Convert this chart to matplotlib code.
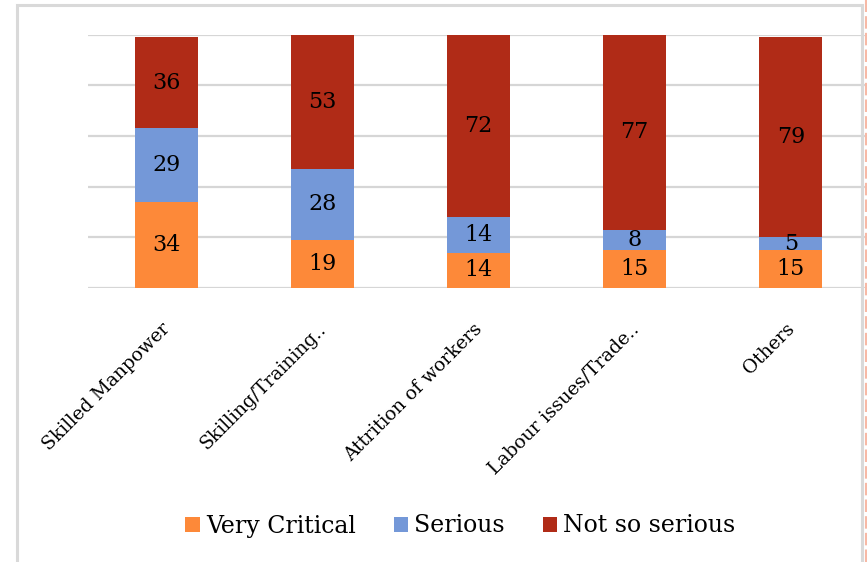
import matplotlib
matplotlib.use("Agg")
import matplotlib.pyplot as plt
from matplotlib.patches import Rectangle, Patch
from matplotlib.lines import Line2D
from matplotlib.transforms import ScaledTranslation
import numpy as np

plt.rcParams["font.family"] = ["DejaVu Serif"]

categories = ["Skilled Manpower", "Skilling/Training..", "Attrition of workers",
              "Labour issues/Trade..", "Others"]
very_critical = [34, 19, 14, 15, 15]
serious = [29, 28, 14, 8, 5]
not_so_serious = [36, 53, 72, 77, 79]

series_names = ["Very Critical", "Serious", "Not so serious"]
colors = ["#FD8939", "#7498D8", "#B02B17"]

W, H = 867, 562
fig = plt.figure(figsize=(W / 100, H / 100), dpi=100)

# plot area in pixel terms
left, right, top, bottom = 88, 869, 34.5, 288
ax = fig.add_axes([left / W, 1 - bottom / H, (right - left) / W, (bottom - top) / H])

x = np.arange(len(categories))
bar_w = 0.403
base = np.zeros(len(categories))
for vals, name, col in zip([very_critical, serious, not_so_serious], series_names, colors):
    vals = np.array(vals, dtype=float)
    ax.bar(x, vals, bar_w, bottom=base, color=col, label=name, zorder=3)
    for xi, b, v in zip(x, base, vals):
        ax.text(xi, b + v / 2, f"{int(v)}", ha="center", va="center",
                fontsize=16, color="black", zorder=4)
    base = base + vals

ax.set_xlim(-0.5, len(categories) - 0.5)
ax.set_ylim(0, 100)
ax.set_yticks(np.arange(0, 101, 20))
ax.yaxis.grid(True, color="#D6D6D6", linewidth=1.6, zorder=0)
ax.tick_params(axis="y", length=0, labelleft=False)
ax.tick_params(axis="x", length=0, pad=23)
for s in ax.spines.values():
    s.set_visible(False)

ax.set_xticks(x)
ax.set_xticklabels(categories, rotation=45, ha="right", va="top",
                   rotation_mode="anchor", fontsize=13.5)
shift = ScaledTranslation(-5 / 100, 0, fig.dpi_scale_trans)
for lbl in ax.get_xticklabels():
    lbl.set_transform(lbl.get_transform() + shift)

handles = [Patch(facecolor=c, edgecolor="none") for c in colors]
fig.legend(handles, series_names, loc="center", bbox_to_anchor=(0.531, 1 - 526 / H),
           ncol=3, frameon=False, fontsize=17, handlelength=0.62, handleheight=0.62,
           handletextpad=0.25, columnspacing=1.6)

# outer frame of the chart box
fig.patches.append(Rectangle((17 / W, -0.05), (862 - 17) / W, 1 - 5 / H + 0.05,
                             transform=fig.transFigure, fill=False,
                             edgecolor="#D9D9D9", linewidth=2.2, zorder=0))
fig.lines.append(Line2D([865.5 / W, 865.5 / W], [0, 1], transform=fig.transFigure,
                        color="#F7B9A6", linewidth=1.5, linestyle=(0, (6, 2))))

fig.savefig("out.png", dpi=100)
